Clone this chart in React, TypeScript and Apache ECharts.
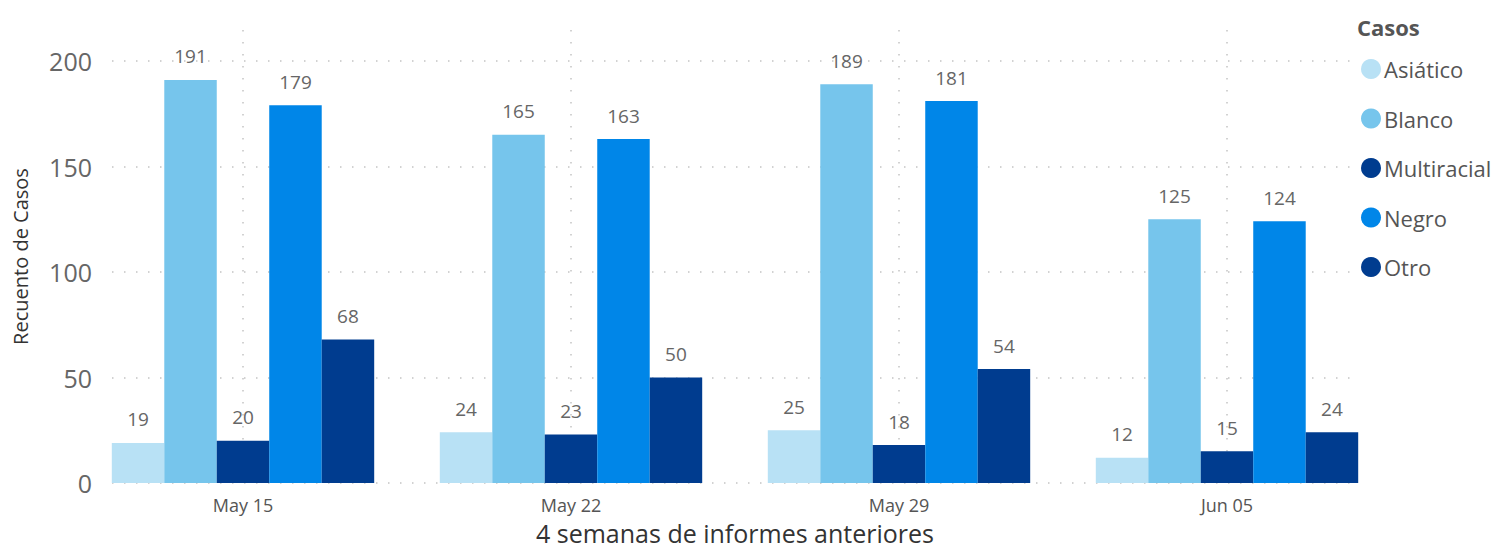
import React, { useEffect, useRef } from "react";
import * as echarts from "echarts";

const categories = ["May 15", "May 22", "May 29", "Jun 05"];
const asiatico = [19, 24, 25, 12];
const blanco = [191, 165, 189, 125];
const multiracial = [20, 23, 18, 15];
const negro = [179, 163, 181, 124];
const otro = [68, 50, 54, 24];
const yTicks = [0, 50, 100, 150, 200];

const seriesDefs = [
  { name: "Asiático", data: asiatico, color: "#B8E1F5" },
  { name: "Blanco", data: blanco, color: "#76C5EC" },
  { name: "Multiracial", data: multiracial, color: "#003C8F" },
  { name: "Negro", data: negro, color: "#0086E8" },
  { name: "Otro", data: otro, color: "#003C8F" },
];

const FONT = "'Open Sans', 'Noto Sans', sans-serif";
const dotted = { color: "#C4C4C4", width: 1.5, type: [1.5, 10.5] as any };

export default function App() {
  const ref = useRef<HTMLDivElement>(null);
  useEffect(() => {
    if (!ref.current) return;
    const chart = echarts.init(ref.current, undefined, { renderer: "svg" });
    chart.setOption({
      animation: false,
      backgroundColor: "#ffffff",
      textStyle: { fontFamily: FONT },
      title: {
        text: "Casos",
        left: 1352,
        top: 11,
        textStyle: { fontFamily: FONT, fontSize: 22, fontWeight: "bold", color: "#555555" },
      },
      legend: {
        orient: "vertical",
        left: 1356,
        top: 53,
        icon: "circle",
        itemWidth: 20,
        itemHeight: 20,
        itemGap: 27.5,
        data: seriesDefs.map((s) => s.name),
        textStyle: { fontFamily: FONT, fontSize: 22, color: "#555555", padding: [0, 0, 0, -2] },
      },
      grid: [
        { left: 79, width: 1312, top: 61, height: 422, outerBoundsMode: "none", containLabel: false },
        { left: 112, width: 1246, top: 61, height: 422, outerBoundsMode: "none", containLabel: false },
        { left: 243, width: 984, top: 30, height: 453, outerBoundsMode: "none", containLabel: false },
      ],
      xAxis: [
        {
          type: "category",
          gridIndex: 0,
          data: categories,
          axisLine: { show: false },
          axisTick: { show: false },
          splitLine: { show: false },
          axisLabel: { fontFamily: FONT, fontSize: 18, color: "#555555", margin: 13 },
          name: "4 semanas de informes anteriores",
          nameLocation: "middle",
          nameGap: 34,
          nameTextStyle: { fontFamily: FONT, fontSize: 25, color: "#333333", lineHeight: 28 },
        },
        {
          type: "value",
          gridIndex: 1,
          show: false,
          min: 0,
          max: 1,
        },
        {
          type: "category",
          gridIndex: 2,
          data: categories,
          boundaryGap: false,
          axisLine: { show: false },
          axisTick: { show: false },
          axisLabel: { show: false },
          splitLine: { show: true, lineStyle: dotted },
        },
      ],
      yAxis: [
        {
          type: "value",
          gridIndex: 0,
          min: 0,
          max: 200,
          interval: 50,
          show: false,
          splitLine: { show: false },
        },
        {
          type: "value",
          gridIndex: 1,
          min: yTicks[0],
          max: yTicks[yTicks.length - 1],
          interval: 50,
          axisLine: { show: false },
          axisTick: { show: false },
          axisLabel: { fontFamily: FONT, fontSize: 25, color: "#666666", margin: 20 },
          splitLine: { show: true, lineStyle: dotted },
        },
        {
          type: "value",
          gridIndex: 2,
          min: 0,
          max: 1,
          axisLine: { show: false },
          axisTick: { show: false },
          axisLabel: { show: false },
          splitLine: { show: false },
          name: "Recuento de Casos",
          nameLocation: "middle",
          nameGap: 213,
          nameTextStyle: { fontFamily: FONT, fontSize: 20, color: "#333333" },
        },
      ],
      series: seriesDefs.map((s) => ({
        name: s.name,
        type: "bar",
        xAxisIndex: 0,
        yAxisIndex: 0,
        data: s.data,
        barGap: "0%",
        barCategoryGap: "20%",
        itemStyle: { color: s.color },
        label: {
          show: true,
          position: "top",
          distance: 14,
          fontFamily: FONT,
          fontSize: 19,
          color: "#666666",
        },
      })),
    });
    return () => chart.dispose();
  }, []);
  return (
    <div
      ref={ref}
      style={{ position: "fixed", left: 0, top: 0, width: 1499, height: 553 }}
    />
  );
}
